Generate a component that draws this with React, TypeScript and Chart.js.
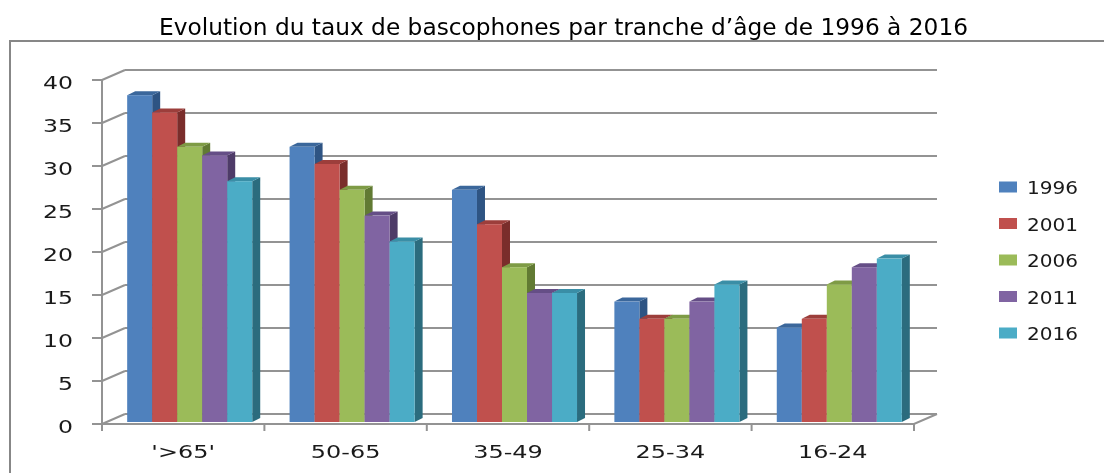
import React, { useEffect, useRef } from "react";
import { Chart, registerables } from "chart.js";

Chart.register(...registerables);

const categories = ["'>65'", "50-65", "35-49", "25-34", "16-24"];
const years = ["1996", "2001", "2006", "2011", "2016"];
const s1996 = [38, 32, 27, 14, 11];
const s2001 = [36, 30, 23, 12, 12];
const s2006 = [32, 27, 18, 12, 16];
const s2011 = [31, 24, 15, 14, 18];
const s2016 = [28, 21, 15, 16, 19];
const seriesValues = [s1996, s2001, s2006, s2011, s2016];

const titleText = "Evolution du taux de bascophones par tranche d\u2019âge de 1996 à 2016";

const frontColors = ["#4F81BD", "#C0504D", "#9BBB59", "#8064A2", "#4BACC6"];
const topColors = ["#3B679B", "#9C3E3B", "#7E9B45", "#654E86", "#3A8EA6"];
const sideColors = ["#2E5483", "#7A2D2B", "#617A33", "#4E3B68", "#2B6C7E"];

const W = 1104;
const H = 473;
const DX = 23;
const DY = -10;
const BAR_DX = 8;
const BAR_DY = -4;
const BAR_SHIFT_X = 6.5;
const BAR_SHIFT_Y = -2;
const GRID = "#939393";

function stretched(
  ctx: CanvasRenderingContext2D,
  text: string,
  x: number,
  y: number,
  font: string,
  sx: number,
  align: CanvasTextAlign,
  color: string
) {
  ctx.save();
  ctx.font = font;
  ctx.fillStyle = color;
  ctx.textAlign = align;
  ctx.textBaseline = "alphabetic";
  ctx.translate(x, y);
  ctx.scale(sx, 1);
  ctx.fillText(text, 0, 0);
  ctx.restore();
}

const excel3d = {
  id: "excel3d",
  beforeDatasetsDraw(chart: any) {
    const ctx: CanvasRenderingContext2D = chart.ctx;
    const xs = chart.scales.x;
    const ys = chart.scales.y;
    const ca = chart.chartArea;
    ctx.save();

    // outer frame
    ctx.strokeStyle = "#878787";
    ctx.lineWidth = 2;
    ctx.beginPath();
    ctx.moveTo(10, H);
    ctx.lineTo(10, 41);
    ctx.lineTo(W, 41);
    ctx.stroke();

    // back wall grid + diagonals + tick marks
    ctx.strokeStyle = GRID;
    ctx.lineWidth = 2;
    ys.ticks.forEach((t: any) => {
      const py = ys.getPixelForValue(t.value);
      ctx.beginPath();
      ctx.moveTo(ca.left + DX, py + DY);
      ctx.lineTo(ca.right + DX, py + DY);
      ctx.moveTo(ca.left, py);
      ctx.lineTo(ca.left + DX, py + DY);
      ctx.moveTo(ca.left - 10, py);
      ctx.lineTo(ca.left, py);
      ctx.stroke();
    });
    // left axis
    ctx.beginPath();
    ctx.moveTo(ca.left, ys.getPixelForValue(ys.max));
    ctx.lineTo(ca.left, ys.getPixelForValue(0));
    ctx.stroke();

    // floor front edge
    const by = ys.getPixelForValue(0);
    ctx.beginPath();
    ctx.moveTo(ca.left, by);
    ctx.lineTo(ca.right, by);
    ctx.lineTo(ca.right + DX, by + DY);
    ctx.stroke();

    // x ticks at category boundaries
    const n = categories.length;
    const catW = (ca.right - ca.left) / n;
    for (let i = 0; i <= n; i++) {
      const px =
        i < n ? xs.getPixelForValue(i) - catW / 2 : xs.getPixelForValue(n - 1) + catW / 2;
      ctx.beginPath();
      ctx.moveTo(px, by);
      ctx.lineTo(px, by + 7);
      ctx.stroke();
    }

    // bars, drawn category by category, left to right
    const metas = chart.data.datasets.map((_: any, d: number) => chart.getDatasetMeta(d));
    for (let i = 0; i < n; i++) {
      metas.forEach((meta: any, d: number) => {
        const el = meta.data[i];
        const x0 = el.x - el.width / 2 + BAR_SHIFT_X;
        const x1 = el.x + el.width / 2 + BAR_SHIFT_X;
        const top = el.y + BAR_SHIFT_Y;
        const base = el.base + BAR_SHIFT_Y;
        // side
        ctx.fillStyle = sideColors[d];
        ctx.beginPath();
        ctx.moveTo(x1, top);
        ctx.lineTo(x1 + BAR_DX, top + BAR_DY);
        ctx.lineTo(x1 + BAR_DX, base + BAR_DY);
        ctx.lineTo(x1, base);
        ctx.closePath();
        ctx.fill();
        // top
        ctx.fillStyle = topColors[d];
        ctx.beginPath();
        ctx.moveTo(x0, top);
        ctx.lineTo(x1, top);
        ctx.lineTo(x1 + BAR_DX, top + BAR_DY);
        ctx.lineTo(x0 + BAR_DX, top + BAR_DY);
        ctx.closePath();
        ctx.fill();
        // front
        ctx.fillStyle = frontColors[d];
        ctx.fillRect(x0, top, x1 - x0, base - top);
      });
    }
    ctx.restore();
    return false;
  },
  afterDraw(chart: any) {
    const ctx: CanvasRenderingContext2D = chart.ctx;
    const xs = chart.scales.x;
    const ys = chart.scales.y;
    const labelFont = "18px 'DejaVu Sans'";

    // title
    ctx.save();
    ctx.font = "23px 'DejaVu Sans'";
    const tw = ctx.measureText(titleText).width;
    ctx.restore();
    stretched(ctx, titleText, 563.5, 35, "23px 'DejaVu Sans'", 809 / tw, "center", "#000");

    // y labels
    ys.ticks.forEach((t: any) => {
      const py = ys.getPixelForValue(t.value);
      stretched(ctx, String(t.value), 73, py + 8.5, labelFont, 1.31, "right", "#1a1a1a");
    });

    // x labels
    categories.forEach((c, i) => {
      stretched(ctx, c, xs.getPixelForValue(i), 458, labelFont, 1.33, "center", "#1a1a1a");
    });

    // legend
    years.forEach((yr, k) => {
      const cy = 187 + k * 36.5;
      ctx.fillStyle = frontColors[k];
      ctx.fillRect(999, cy - 5.5, 18, 11);
      stretched(ctx, yr, 1027, cy + 7, "17px 'DejaVu Sans'", 1.18, "left", "#1a1a1a");
    });
  },
};

export default function App() {
  const ref = useRef<HTMLCanvasElement | null>(null);
  useEffect(() => {
    document.body.style.margin = "0";
    const canvas = ref.current;
    if (!canvas) return;
    const chart = new Chart(canvas, {
      type: "bar",
      data: {
        labels: categories,
        datasets: years.map((yr, d) => ({
          label: yr,
          data: seriesValues[d],
          backgroundColor: frontColors[d],
          categoryPercentage: 0.77,
          barPercentage: 1,
        })),
      },
      options: {
        responsive: false,
        animation: false,
        devicePixelRatio: 1,
        layout: { padding: { left: 102, right: W - 914, top: 80, bottom: H - 424 } },
        plugins: {
          legend: { display: false },
          title: { display: false },
          tooltip: { enabled: false },
        },
        scales: {
          x: { display: false, offset: true },
          y: { display: false, min: 0, max: 40, ticks: { stepSize: 5 } },
        },
      },
      plugins: [excel3d],
    });
    return () => chart.destroy();
  }, []);
  return (
    <div style={{ width: W, height: H, background: "#fff" }}>
      <canvas ref={ref} width={W} height={H} style={{ display: "block" }} />
    </div>
  );
}
